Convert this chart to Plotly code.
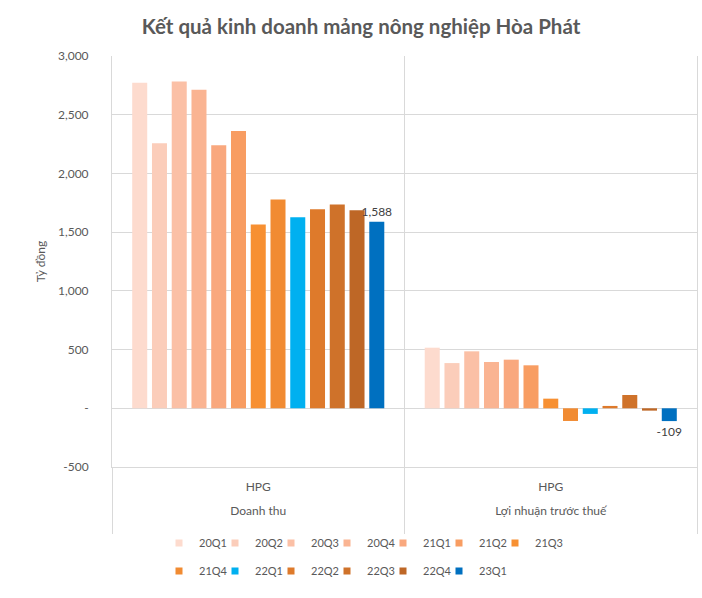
import plotly.graph_objects as go

quarters = ["20Q1", "20Q2", "20Q3", "20Q4", "21Q1", "21Q2", "21Q3",
            "21Q4", "22Q1", "22Q2", "22Q3", "22Q4", "23Q1"]
revenue = [2772, 2258, 2783, 2712, 2239, 2361, 1565, 1777, 1627, 1695, 1735, 1686, 1588]
profit = [516, 385, 485, 394, 414, 366, 82, -108, -48, 20, 113, -20, -109]
colors = ["#FDDBCE", "#FBCDBA", "#FBC0A6", "#FAB492", "#F9A87E", "#F89D62", "#F79032",
          "#F18B32", "#00B0F0", "#DE7A2B", "#CF722A", "#BE6726", "#0070C0"]
outer = ["<br>Doanh thu<br>\u00a0", "<br>Lợi nhuận trước thuế<br>\u00a0"]
inner = ["HPG", "HPG"]
ytick_vals = [-500, 0, 500, 1000, 1500, 2000, 2500, 3000]
ytick_text = ["-500", "-", "500", "1,000", "1,500", "2,000", "2,500", "3,000"]
labelled = "23Q1"

FONT = "Lato"
GREY = "#595959"
GRID = "#D9D9D9"
W, H = 702, 598

fig = go.Figure()
for i, q in enumerate(quarters):
    vals = [revenue[i], profit[i]]
    txt = [f"{v:,}" for v in vals] if q == labelled else None
    fig.add_trace(go.Bar(
        x=[outer, inner], y=vals, name=q, marker_color=colors[i],
        marker_line_width=0, text=txt, textposition="outside",
        constraintext="none",
        textfont=dict(family=FONT, size=12, color="#404040"),
        cliponaxis=False, showlegend=False,
    ))

# legend: one small legend per quarter, laid out as 7 + 6 entries on two rows
per_row, pitch, first_symbol = 7, 56, 178
row_y = [543, 571]
legend_layouts = {}
for i, q in enumerate(quarters):
    key = "legend" if i == 0 else f"legend{i + 1}"
    fig.add_trace(go.Scatter(
        x=[[outer[0]], [inner[0]]], y=[None], mode="markers", name=q,
        marker=dict(symbol="square", size=7, color=colors[i]),
        legend=key, showlegend=True, hoverinfo="skip",
    ))
    col, row = i % per_row, i // per_row
    legend_layouts[key] = dict(
        orientation="h", xref="container", yref="container",
        x=(first_symbol - 19 + col * pitch) / W, y=1 - row_y[row] / H,
        xanchor="left", yanchor="middle",
        font=dict(family=FONT, size=11, color=GREY), bgcolor="rgba(0,0,0,0)",
        itemclick=False,
    )

fig.update_layout(
    width=W, height=H,
    margin=dict(l=112, r=5, t=55.5, b=131, autoexpand=False),
    paper_bgcolor="white", plot_bgcolor="white",
    barmode="group", bargap=0.122, bargroupgap=0.24,
    title=dict(text="<b>Kết quả kinh doanh mảng nông nghiệp Hòa Phát</b>",
               x=361 / W, xanchor="center", y=1 - 27 / H, yanchor="middle",
               font=dict(family=FONT, size=20.5, color=GREY)),
    font=dict(family=FONT, size=12, color=GREY),
    xaxis=dict(type="multicategory", showgrid=False, showline=True, linecolor=GRID,
               linewidth=1, showdividers=True, dividercolor=GRID, dividerwidth=1,
               automargin=False, ticklabelstandoff=9,
               tickfont=dict(family=FONT, size=12, color=GREY), ticks=""),
    yaxis=dict(range=[-500, 3000], tickvals=ytick_vals, ticktext=ytick_text,
               showgrid=True, gridcolor=GRID, gridwidth=1, zeroline=False,
               showline=True, linecolor=GRID, mirror=True, ticks="",
               ticklabelstandoff=20, automargin=False,
               tickfont=dict(family=FONT, size=12, color=GREY),
               title=dict(text="Tỷ đồng", standoff=9,
                          font=dict(family=FONT, size=12, color=GREY))),
    shapes=[dict(type="line", xref="x domain", yref="y domain", x0=0.5, x1=0.5,
                 y0=0, y1=1, line=dict(color=GRID, width=1))],
    **legend_layouts,
)

fig.write_html("out.html", config={"displayModeBar": False},
               post_script="document.body.style.margin='0px';")
